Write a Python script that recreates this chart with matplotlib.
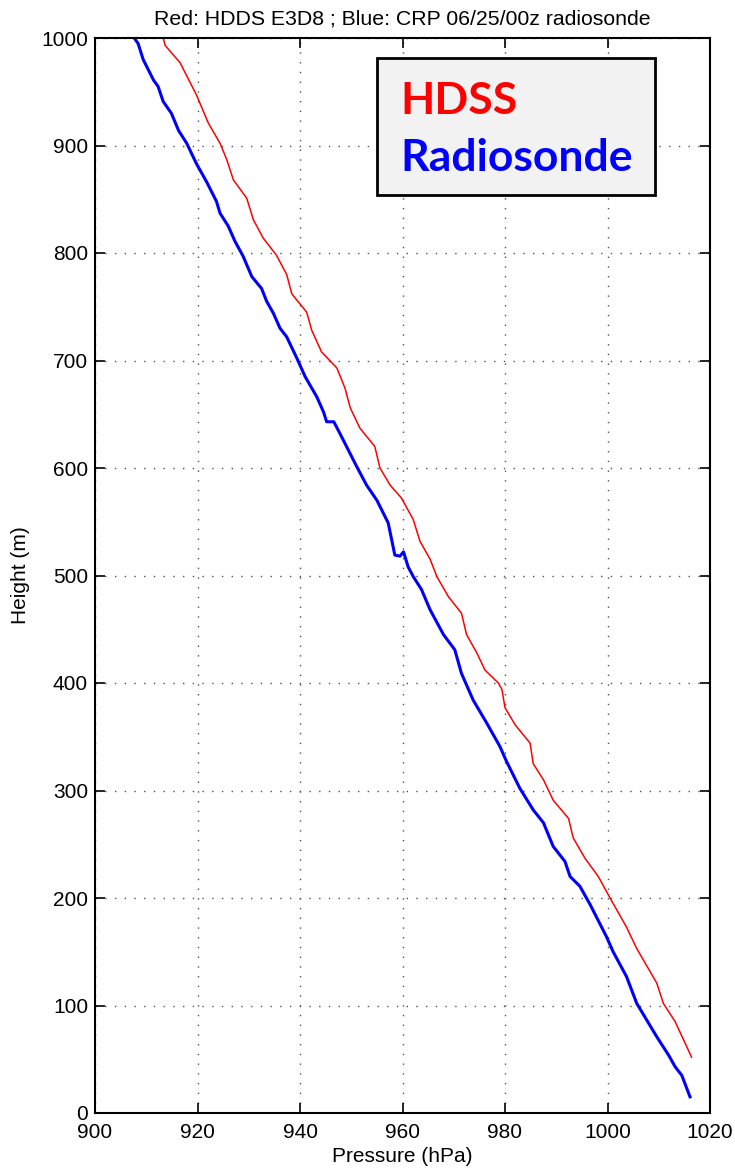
import matplotlib
matplotlib.use("Agg")
import matplotlib.pyplot as plt
from matplotlib.patches import Rectangle

# HDSS (red) profile: pressure (hPa), height (m)
hdss_pressure = [1016.4, 1013.2, 1010.9, 1009.6, 1005.7, 1003.7, 1000.5, 998.2, 995.6, 993.3,
                 992.4, 989.4, 987.5, 985.5, 984.9, 982.0, 980.0, 979.4, 978.7, 976.1,
                 974.5, 972.5, 971.5, 969.0, 966.7, 965.4, 963.4, 962.1, 959.8, 957.6,
                 955.6, 954.6, 951.7, 949.8, 948.8, 947.2, 944.2, 942.3, 941.3, 938.4,
                 937.4, 935.4, 932.8, 930.9, 929.6, 927.0, 925.7, 924.4, 922.1, 919.8,
                 916.6, 913.7, 913.3]
hdss_height = [52, 85, 102, 121, 153, 173, 200, 220, 237, 256,
               274, 291, 310, 325, 344, 361, 377, 394, 400, 412,
               428, 445, 465, 480, 499, 515, 532, 552, 572, 584,
               600, 620, 637, 656, 674, 693, 708, 728, 745, 762,
               780, 798, 814, 831, 851, 868, 887, 902, 921, 947,
               977, 993, 1000]

# Radiosonde (blue) profile
sonde_pressure = [1016.1, 1014.5, 1013.2, 1011.9, 1009.6, 1005.7, 1003.7, 1001.1, 999.8, 996.6,
                  994.6, 992.7, 991.7, 989.4, 987.5, 985.5, 982.9, 980.3, 979.0, 976.4,
                  973.8, 971.5, 970.2, 968.0, 965.4, 963.7, 962.1, 961.1, 960.2, 959.5,
                  958.5, 957.9, 957.2, 955.0, 953.0, 951.1, 949.4, 947.8, 946.6, 945.2,
                  944.6, 943.3, 941.0, 939.4, 937.4, 936.1, 934.8, 933.5, 932.5, 930.6,
                  928.9, 927.3, 926.0, 924.4, 923.7, 921.8, 919.8, 917.9, 916.3, 914.9,
                  913.3, 912.3, 911.4, 909.4, 908.4, 907.5]
sonde_height = [15, 35, 43, 54, 71, 102, 127, 150, 164, 194,
                211, 220, 234, 248, 270, 282, 302, 327, 341, 363,
                384, 409, 431, 445, 468, 487, 499, 508, 522, 518,
                519, 533, 549, 570, 584, 601, 617, 632, 643, 643,
                652, 666, 685, 702, 722, 730, 744, 755, 767, 778,
                797, 811, 825, 837, 848, 866, 883, 902, 914, 930,
                941, 955, 961, 980, 995, 1001]

x_ticks = [900, 920, 940, 960, 980, 1000, 1020]
y_ticks = [0, 100, 200, 300, 400, 500, 600, 700, 800, 900, 1000]

plt.rcParams["font.family"] = ["Liberation Sans", "DejaVu Sans"]

fig = plt.figure(figsize=(7.35, 11.72), dpi=100)
ax = fig.add_axes([95 / 735, 59 / 1172, 615 / 735, 1075 / 1172])

ax.plot(hdss_pressure, hdss_height, color="#ff0000", lw=1.1)
ax.plot(sonde_pressure, sonde_height, color="#0000ff", lw=2.2)

ax.set_xlim(900, 1020)
ax.set_ylim(0, 1000)
ax.set_xticks(x_ticks)
ax.set_yticks(y_ticks)
ax.grid(True, color="#505050", linestyle=(0, (1, 6)), lw=1)
ax.tick_params(direction="in", length=7, width=1.2, top=True, right=True,
               labelsize=15, pad=5)
ax.tick_params(axis="x", pad=7)
for sp in ax.spines.values():
    sp.set_linewidth(1.5)

ax.set_xlabel("Pressure (hPa)", fontsize=15, labelpad=4)
ax.set_ylabel("Height (m)", fontsize=15, labelpad=8)
ax.set_title("Red: HDDS E3D8 ; Blue: CRP 06/25/00z radiosonde", fontsize=15.3, pad=10)

# annotation box in the upper right
ax.add_patch(Rectangle((0.4585, 0.854), 0.452, 0.1274, transform=ax.transAxes,
                       facecolor="#f2f2f2", edgecolor="black", lw=2, zorder=5))
ax.text(0.496, 0.9293, "HDSS", transform=ax.transAxes, color="#ff0000",
        fontsize=32, fontweight="bold", family="Lato", zorder=6, va="baseline")
ax.text(0.496, 0.8766, "Radiosonde", transform=ax.transAxes, color="#0000ff",
        fontsize=32, fontweight="bold", family="Lato", zorder=6, va="baseline")

fig.savefig("out.png", dpi=100)
plt.close(fig)
